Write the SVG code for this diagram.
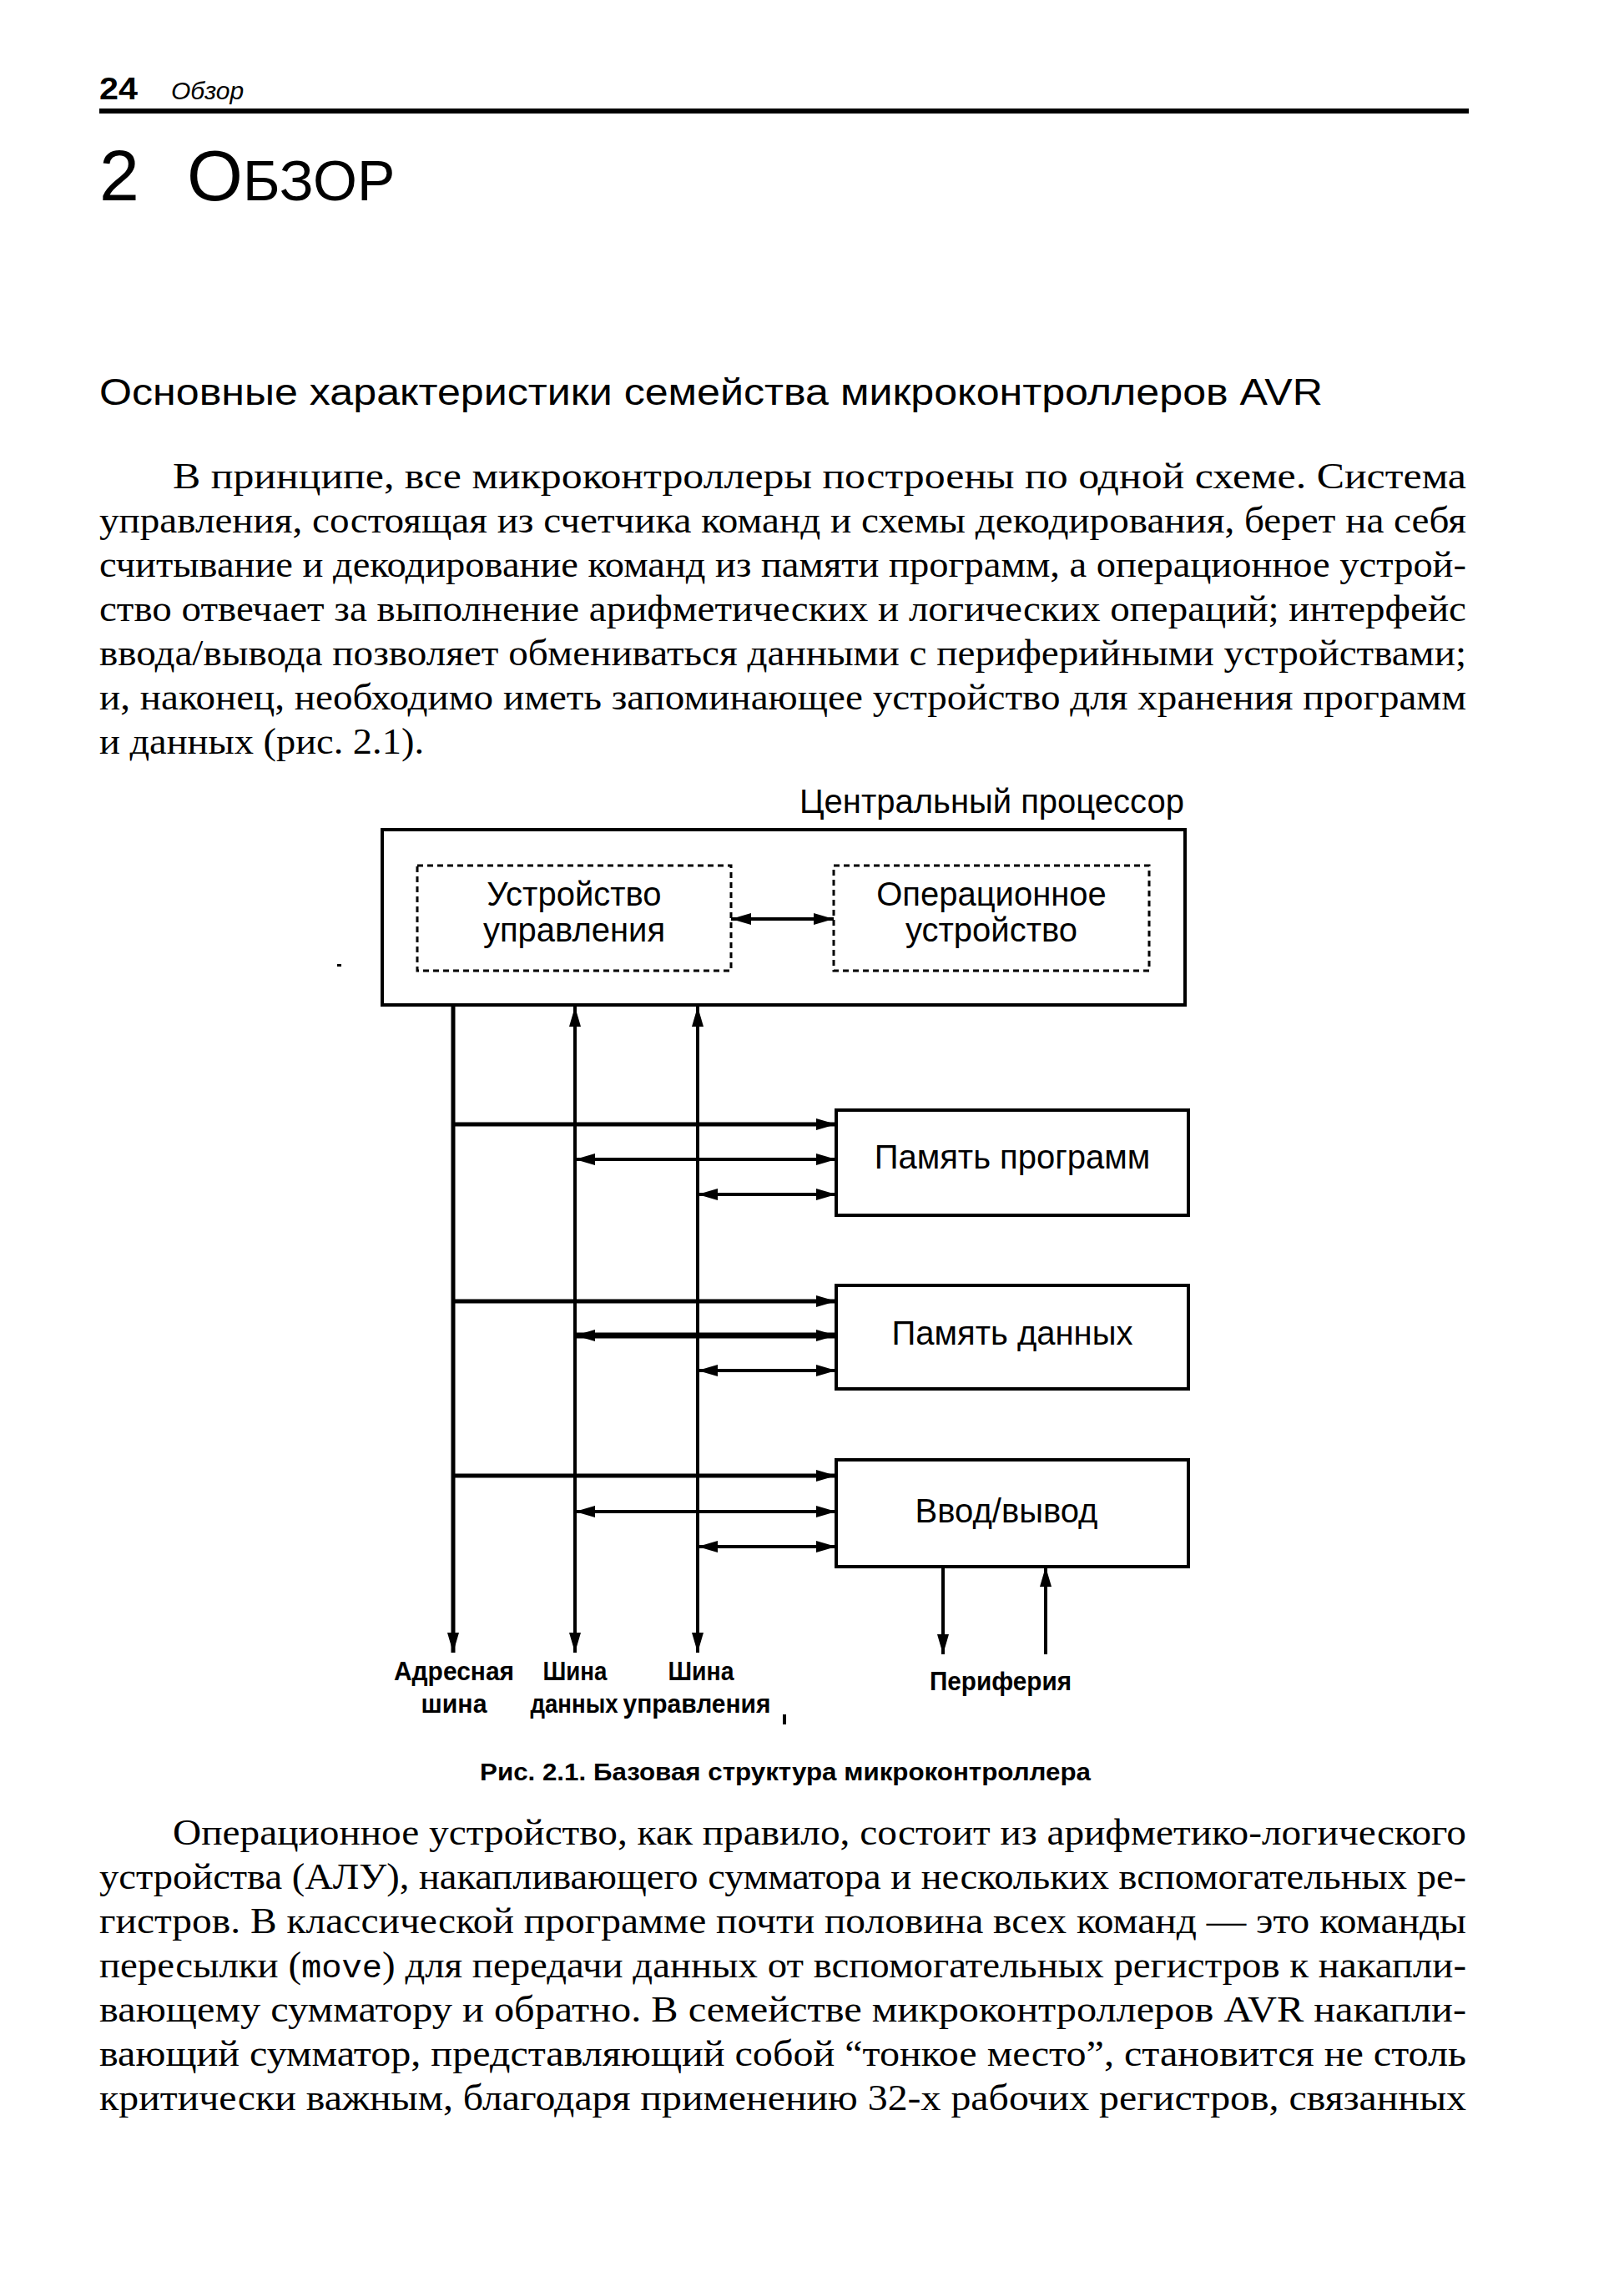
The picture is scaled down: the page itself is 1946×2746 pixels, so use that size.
<svg xmlns="http://www.w3.org/2000/svg" width="1946" height="2746" viewBox="0 0 1946 2746">
<style>
.body{font-family:"Liberation Serif","Times New Roman",serif;font-size:44px;fill:#000}
.sans{font-family:"Liberation Sans",Arial,sans-serif;fill:#000}
.lbl{font-family:"Liberation Sans",Arial,sans-serif;font-size:40px;fill:#000;text-anchor:middle}
.blbl{font-family:"Liberation Sans",Arial,sans-serif;font-size:32px;font-weight:bold;fill:#000;text-anchor:middle}
.box{fill:none;stroke:#000;stroke-width:4}
.dbox{fill:none;stroke:#000;stroke-width:3;stroke-dasharray:7 5}
.ln{fill:none;stroke:#000}
</style>
<defs>
<marker id="ah" viewBox="0 0 24 14" refX="24" refY="7" markerWidth="24" markerHeight="14" markerUnits="userSpaceOnUse" orient="auto-start-reverse"><path d="M0,0 L24,7 L0,14 z" fill="#000"/></marker>
</defs>
<rect width="1946" height="2746" fill="#fff"/>

<g id="header">
<text class="sans" x="119" y="119" font-size="36" font-weight="bold" textLength="46" lengthAdjust="spacingAndGlyphs">24</text>
<text class="sans" x="205" y="119" font-size="30" font-style="italic">Обзор</text>
<rect x="119" y="130" width="1641" height="6" fill="#000"/>
<text class="sans" x="119" y="240" font-size="86">2 <tspan x="224">О</tspan><tspan font-size="68">БЗОР</tspan></text>
<text class="sans" x="119" y="485" font-size="45" textLength="1466" lengthAdjust="spacingAndGlyphs">Основные характеристики семейства микроконтроллеров AVR</text>
</g>

<g id="para1" class="body">
<text x="207" y="585" textLength="1550" lengthAdjust="spacingAndGlyphs">В принципе, все микроконтроллеры построены по одной схеме. Система</text>
<text x="119" y="638" textLength="1638" lengthAdjust="spacingAndGlyphs">управления, состоящая из счетчика команд и схемы декодирования, берет на себя</text>
<text x="119" y="691" textLength="1638" lengthAdjust="spacingAndGlyphs">считывание и декодирование команд из памяти программ, а операционное устрой-</text>
<text x="119" y="744" textLength="1638" lengthAdjust="spacingAndGlyphs">ство отвечает за выполнение арифметических и логических операций; интерфейс</text>
<text x="119" y="797" textLength="1638" lengthAdjust="spacingAndGlyphs">ввода/вывода позволяет обмениваться данными с периферийными устройствами;</text>
<text x="119" y="850" textLength="1638" lengthAdjust="spacingAndGlyphs">и, наконец, необходимо иметь запоминающее устройство для хранения программ</text>
<text x="119" y="903" textLength="389" lengthAdjust="spacingAndGlyphs">и данных (рис. 2.1).</text>
</g>

<g id="cpu">
<text class="sans" x="1419" y="974" font-size="40" text-anchor="end">Центральный процессор</text>
<rect class="box" x="458" y="994" width="962" height="210"/>
</g>
<g id="control-unit">
<rect class="dbox" x="500" y="1037" width="376" height="126"/>
<text class="lbl" x="688" y="1085">Устройство</text>
<text class="lbl" x="688" y="1128">управления</text>
</g>
<g id="alu">
<rect class="dbox" x="999" y="1037" width="378" height="126"/>
<text class="lbl" x="1188" y="1085">Операционное</text>
<text class="lbl" x="1188" y="1128">устройство</text>
</g>
<g id="prog-mem">
<rect class="box" x="1002" y="1330" width="422" height="126"/>
<text class="lbl" x="1213" y="1400">Память программ</text>
</g>
<g id="data-mem">
<rect class="box" x="1002" y="1540" width="422" height="124"/>
<text class="lbl" x="1213" y="1611">Память данных</text>
</g>
<g id="io">
<rect class="box" x="1002" y="1749" width="422" height="128"/>
<text class="lbl" x="1206" y="1824">Ввод/вывод</text>
</g>

<g id="connectors">
<line class="ln" x1="876" y1="1101" x2="999" y2="1101" stroke-width="4" marker-start="url(#ah)" marker-end="url(#ah)"/>
<line class="ln" x1="543" y1="1204" x2="543" y2="1980" stroke-width="5" marker-end="url(#ah)"/>
<line class="ln" x1="689" y1="1206" x2="689" y2="1980" stroke-width="4" marker-start="url(#ah)" marker-end="url(#ah)"/>
<line class="ln" x1="836" y1="1206" x2="836" y2="1980" stroke-width="4" marker-start="url(#ah)" marker-end="url(#ah)"/>

<line class="ln" x1="543" y1="1347" x2="1002" y2="1347" stroke-width="5" marker-end="url(#ah)"/>
<line class="ln" x1="689" y1="1389" x2="1002" y2="1389" stroke-width="4" marker-start="url(#ah)" marker-end="url(#ah)"/>
<line class="ln" x1="836" y1="1431" x2="1002" y2="1431" stroke-width="4" marker-start="url(#ah)" marker-end="url(#ah)"/>

<line class="ln" x1="543" y1="1559" x2="1002" y2="1559" stroke-width="5" marker-end="url(#ah)"/>
<line class="ln" x1="689" y1="1600" x2="1002" y2="1600" stroke-width="7" marker-start="url(#ah)" marker-end="url(#ah)"/>
<line class="ln" x1="836" y1="1642" x2="1002" y2="1642" stroke-width="4" marker-start="url(#ah)" marker-end="url(#ah)"/>

<line class="ln" x1="543" y1="1768" x2="1002" y2="1768" stroke-width="5" marker-end="url(#ah)"/>
<line class="ln" x1="689" y1="1811" x2="1002" y2="1811" stroke-width="4" marker-start="url(#ah)" marker-end="url(#ah)"/>
<line class="ln" x1="836" y1="1853" x2="1002" y2="1853" stroke-width="4" marker-start="url(#ah)" marker-end="url(#ah)"/>

<line class="ln" x1="1130" y1="1877" x2="1130" y2="1982" stroke-width="4" marker-end="url(#ah)"/>
<line class="ln" x1="1253" y1="1982" x2="1253" y2="1877" stroke-width="4" marker-end="url(#ah)"/>
</g>

<g id="bus-labels">
<text class="blbl" x="544" y="2013" textLength="144" lengthAdjust="spacingAndGlyphs">Адресная</text>
<text class="blbl" x="544" y="2052" textLength="79" lengthAdjust="spacingAndGlyphs">шина</text>
<text class="blbl" x="689" y="2013" textLength="77" lengthAdjust="spacingAndGlyphs">Шина</text>
<text class="blbl" x="688" y="2052" textLength="105" lengthAdjust="spacingAndGlyphs">данных</text>
<text class="blbl" x="840" y="2013" textLength="79" lengthAdjust="spacingAndGlyphs">Шина</text>
<text class="blbl" x="835" y="2052" textLength="177" lengthAdjust="spacingAndGlyphs">управления</text>
<text class="blbl" x="1199" y="2025" textLength="170" lengthAdjust="spacingAndGlyphs">Периферия</text>
<rect x="938" y="2054" width="4" height="12" fill="#000"/>
<rect x="404" y="1155" width="5" height="3" fill="#000"/>
</g>

<text class="sans" x="941" y="2133" font-size="30" font-weight="bold" text-anchor="middle" textLength="732" lengthAdjust="spacingAndGlyphs">Рис. 2.1. Базовая структура микроконтроллера</text>

<g id="para2" class="body">
<text x="207" y="2210" textLength="1550" lengthAdjust="spacingAndGlyphs">Операционное устройство, как правило, состоит из арифметико-логического</text>
<text x="119" y="2263" textLength="1638" lengthAdjust="spacingAndGlyphs">устройства (АЛУ), накапливающего сумматора и нескольких вспомогательных ре-</text>
<text x="119" y="2316" textLength="1638" lengthAdjust="spacingAndGlyphs">гистров. В классической программе почти половина всех команд — это команды</text>
<text x="119" y="2369" textLength="1638" lengthAdjust="spacingAndGlyphs">пересылки (<tspan font-family="Liberation Mono, Courier New, monospace" font-size="38">move</tspan>) для передачи данных от вспомогательных регистров к накапли-</text>
<text x="119" y="2422" textLength="1638" lengthAdjust="spacingAndGlyphs">вающему сумматору и обратно. В семействе микроконтроллеров AVR накапли-</text>
<text x="119" y="2475" textLength="1638" lengthAdjust="spacingAndGlyphs">вающий сумматор, представляющий собой “тонкое место”, становится не столь</text>
<text x="119" y="2528" textLength="1638" lengthAdjust="spacingAndGlyphs">критически важным, благодаря применению 32-х рабочих регистров, связанных</text>
</g>
</svg>
